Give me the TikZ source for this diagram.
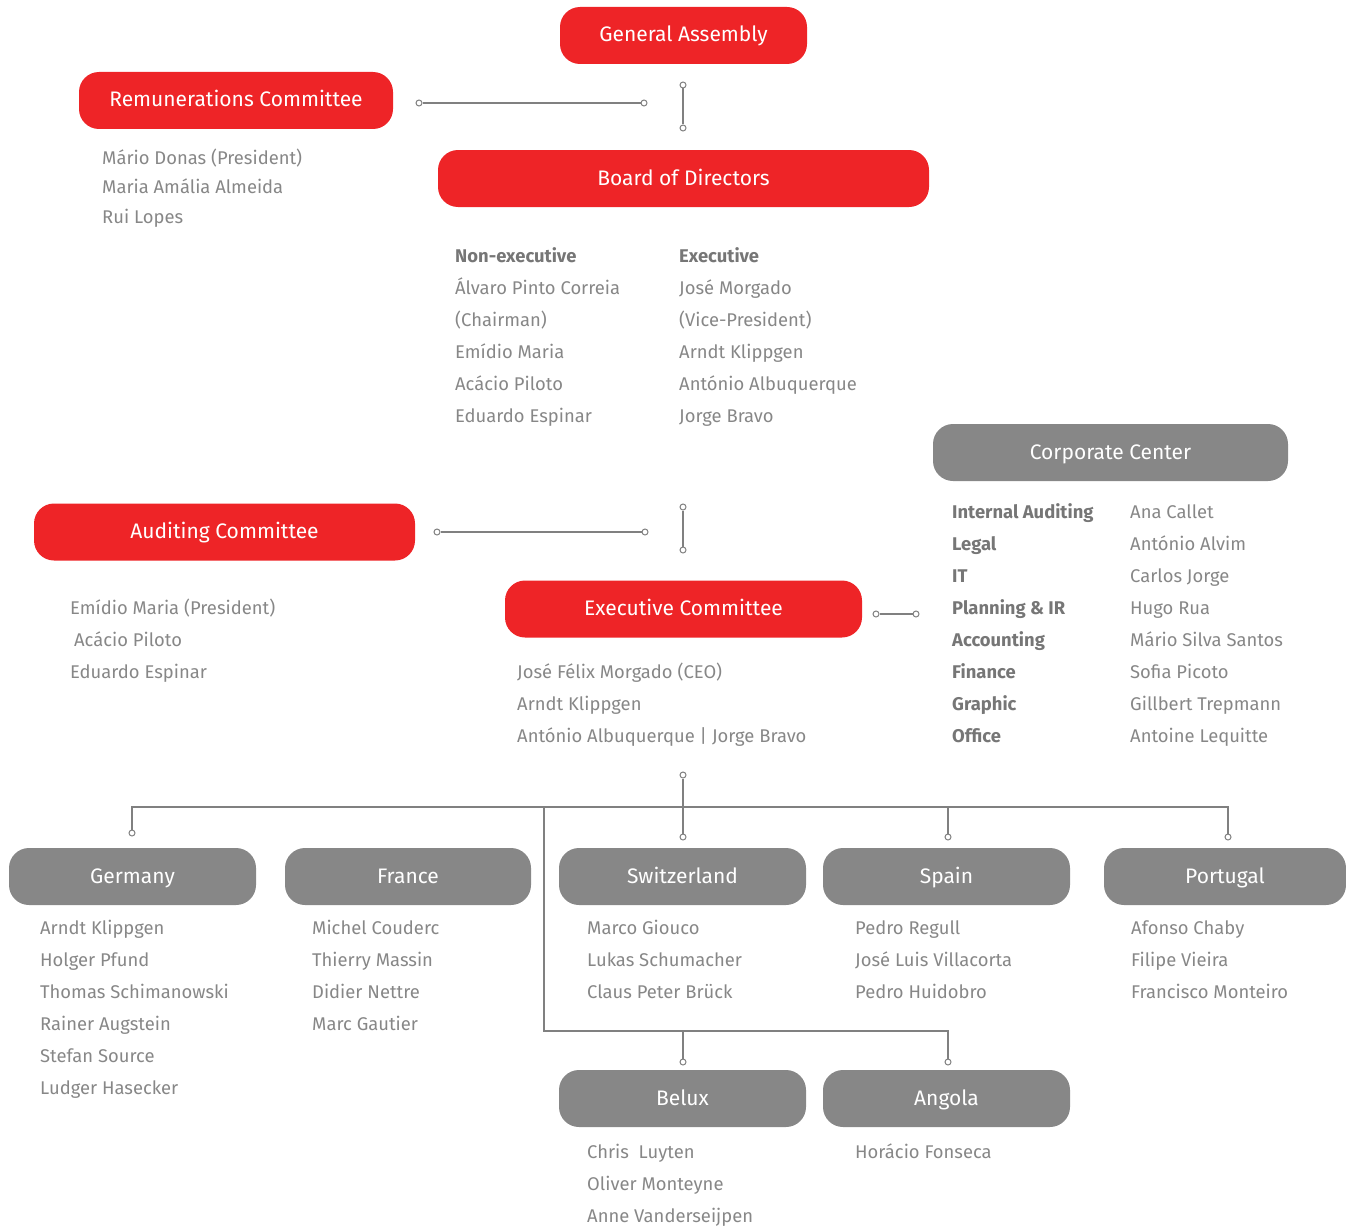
\documentclass[tikz,border=0pt]{standalone}
\usepackage{fontspec}
\setmainfont{Fira Sans}
\definecolor{cred}{HTML}{EE2427}
\definecolor{cbox}{HTML}{878787}
\definecolor{ctext}{HTML}{878787}
\definecolor{chead}{HTML}{767676}
\definecolor{cline}{HTML}{808080}
\tikzset{
  redbox/.style={fill=cred, rounded corners=20pt, minimum height=57pt, text=white, font=\fontsize{21}{24}\selectfont, inner sep=0pt, text height=15pt, text depth=2pt},
  graybox/.style={redbox, fill=cbox},
  txt/.style={anchor=base west, text=ctext, font=\fontsize{18.4}{22}\selectfont, inner sep=0pt},
  hd/.style={txt, text=chead, font=\fontsize{18.4}{22}\selectfont\bfseries},
  dot/.style={circle, draw=cline, fill=white, line width=1pt, minimum size=6pt, inner sep=0pt},
  conn/.style={draw=cline, line width=1.3pt},
}
\begin{document}
\begin{tikzpicture}[x=1pt, y=-1pt]
\useasboundingbox (0,0) rectangle (1346,1228);
% boxes
\node[redbox, minimum width=247pt] (ga) at (683.5,35.5) {General Assembly};
\node[redbox, minimum width=314pt] (rc) at (236,100.5) {Remunerations Committee};
\node[redbox, minimum width=491pt] (bd) at (683.5,178.5) {Board of Directors};
\node[graybox, minimum width=355pt] (cc) at (1110.5,452.5) {Corporate Center};
\node[redbox, minimum width=381pt] (ac) at (224.5,532) {Auditing Committee};
\node[redbox, minimum width=357pt] (ec) at (683.5,609) {Executive Committee};
\node[graybox, minimum width=247pt] (de) at (132.5,876.5) {Germany};
\node[graybox, minimum width=246pt] (fr) at (408,876.5) {France};
\node[graybox, minimum width=247pt] (ch) at (682.5,876.5) {Switzerland};
\node[graybox, minimum width=247pt] (es) at (946.5,876.5) {Spain};
\node[graybox, minimum width=242pt] (pt) at (1225,876.5) {Portugal};
\node[graybox, minimum width=247pt] (be) at (682.5,1098.5) {Belux};
\node[graybox, minimum width=247pt] (ao) at (946.5,1098.5) {Angola};
% connectors
\node[dot] (r1) at (419,103) {};
\node[dot] (r2) at (644,103) {};
\draw[conn] (r1) -- (r2);
\node[dot] (v1) at (683,85) {};
\node[dot] (v2) at (683,128) {};
\draw[conn] (v1) -- (v2);
\node[dot] (a1) at (437,532) {};
\node[dot] (a2) at (645,532) {};
\draw[conn] (a1) -- (a2);
\node[dot] (w1) at (683,507) {};
\node[dot] (w2) at (683,550) {};
\draw[conn] (w1) -- (w2);
\node[dot] (e1) at (876,614) {};
\node[dot] (e2) at (916,614) {};
\draw[conn] (e1) -- (e2);
% tree
\coordinate (hL) at (132,807);
\coordinate (hR) at (1228,807);
\coordinate (hM) at (544,807);
\coordinate (lB) at (544,1031);
\coordinate (lR) at (948,1031);
\node[dot] (t0) at (683,775) {};
\node[dot] (tde) at (132,833) {};
\node[dot] (tch) at (683,837) {};
\node[dot] (tes) at (948,837) {};
\node[dot] (tpt) at (1228,837) {};
\node[dot] (tbe) at (683,1062) {};
\node[dot] (tao) at (948,1062) {};
\draw[conn] (tde) -- (hL) -- (hR) -- (tpt);
\draw[conn] (t0) -- (tch);
\draw[conn] (tes) -- (tes |- hL);
\draw[conn] (hM) -- (lB) -- (lR) -- (tao);
\draw[conn] (tbe) -- (tbe |- lB);
% texts
\node[txt] (rt1) at (102,164.5) {Mário Donas (President)};
\node[txt] (rt2) at (102,193.5) {Maria Amália Almeida};
\node[txt] (rt3) at (102,223.5) {Rui Lopes};
\node[hd] (bn0) at (455,262.5) {Non-executive};
\node[txt] (bn1) at (455,294.5) {Álvaro Pinto Correia};
\node[txt] (bn2) at (455,326.5) {(Chairman)};
\node[txt] (bn3) at (455,358.5) {Emídio Maria};
\node[txt] (bn4) at (455,390.5) {Acácio Piloto};
\node[txt] (bn5) at (455,422.5) {Eduardo Espinar};
\node[hd] (be0) at (679,262.5) {Executive};
\node[txt] (be1) at (679,294.5) {José Morgado};
\node[txt] (be2) at (679,326.5) {(Vice-President)};
\node[txt] (be3) at (679,358.5) {Arndt Klippgen};
\node[txt] (be4) at (679,390.5) {António Albuquerque};
\node[txt] (be5) at (679,422.5) {Jorge Bravo};
\node[hd] (c11) at (952,518.5) {Internal Auditing};
\node[hd] (c12) at (952,550.5) {Legal};
\node[hd] (c13) at (952,582.5) {IT};
\node[hd] (c14) at (952,614.5) {Planning \& IR};
\node[hd] (c15) at (952,646.5) {Accounting};
\node[hd] (c16) at (952,678.5) {Finance};
\node[hd] (c17) at (952,710.5) {Graphic};
\node[hd] (c18) at (952,742.5) {Office};
\node[txt] (c21) at (1130,518.5) {Ana Callet};
\node[txt] (c22) at (1130,550.5) {António Alvim};
\node[txt] (c23) at (1130,582.5) {Carlos Jorge};
\node[txt] (c24) at (1130,614.5) {Hugo Rua};
\node[txt] (c25) at (1130,646.5) {Mário Silva Santos};
\node[txt] (c26) at (1130,678.5) {Sofia Picoto};
\node[txt] (c27) at (1130,710.5) {Gillbert Trepmann};
\node[txt] (c28) at (1130,742.5) {Antoine Lequitte};
\node[txt] (at1) at (70,614.5) {Emídio Maria (President)};
\node[txt] (at2) at (74,646.5) {Acácio Piloto};
\node[txt] (at3) at (70,678.5) {Eduardo Espinar};
\node[txt] (et1) at (517,678.5) {José Félix Morgado (CEO)};
\node[txt] (et2) at (517,710.5) {Arndt Klippgen};
\node[txt] (et3) at (517,742.5) {António Albuquerque | Jorge Bravo};
\node[txt] (g1) at (40,934.5) {Arndt Klippgen};
\node[txt] (g2) at (40,966.5) {Holger Pfund};
\node[txt] (g3) at (40,998.5) {Thomas Schimanowski};
\node[txt] (g4) at (40,1030.5) {Rainer Augstein};
\node[txt] (g5) at (40,1062.5) {Stefan Source};
\node[txt] (g6) at (40,1094.5) {Ludger Hasecker};
\node[txt] (f1) at (312,934.5) {Michel Couderc};
\node[txt] (f2) at (312,966.5) {Thierry Massin};
\node[txt] (f3) at (312,998.5) {Didier Nettre};
\node[txt] (f4) at (312,1030.5) {Marc Gautier};
\node[txt] (s1) at (587,934.5) {Marco Giouco};
\node[txt] (s2) at (587,966.5) {Lukas Schumacher};
\node[txt] (s3) at (587,998.5) {Claus Peter Brück};
\node[txt] (p1) at (855,934.5) {Pedro Regull};
\node[txt] (p2) at (855,966.5) {José Luis Villacorta};
\node[txt] (p3) at (855,998.5) {Pedro Huidobro};
\node[txt] (o1) at (1131,934.5) {Afonso Chaby};
\node[txt] (o2) at (1131,966.5) {Filipe Vieira};
\node[txt] (o3) at (1131,998.5) {Francisco Monteiro};
\node[txt] (b1) at (587,1158.5) {Chris\ \ Luyten};
\node[txt] (b2) at (587,1190.5) {Oliver Monteyne};
\node[txt] (b3) at (587,1222.5) {Anne Vanderseijpen};
\node[txt] (n1) at (855,1158.5) {Horácio Fonseca};
\end{tikzpicture}
\end{document}
